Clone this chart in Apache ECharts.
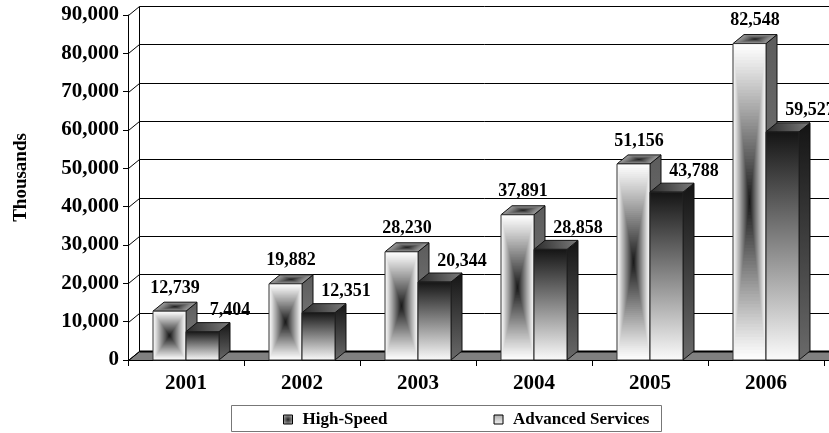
<!DOCTYPE html>
<html><head><meta charset="utf-8">
<script src="https://cdn.jsdelivr.net/npm/echarts/dist/echarts.min.js"></script>
<style>html,body{margin:0;padding:0;background:#fff}#c{width:829px;height:433px}</style>
</head><body><div id="c"></div>
<script>
// ---------- data ----------
const categories = ['2001', '2002', '2003', '2004', '2005', '2006'];
const highSpeed = [12739, 19882, 28230, 37891, 51156, 82548];
const advancedServices = [7404, 12351, 20344, 28858, 43788, 59527];
const yTicks = [0, 10000, 20000, 30000, 40000, 50000, 60000, 70000, 80000, 90000];
const seriesNames = ['High-Speed', 'Advanced Services'];
const yAxisTitle = 'Thousands';

// ---------- style constants ----------
const DX = 11, DY = -9;
const BAR_FRAC = 33 / 116;
const FONT = '"Liberation Serif", "Times New Roman", serif';
const G = echarts.graphic;

function fmt(v) { return v.toLocaleString('en-US'); }
function grey(l) { l = Math.round(Math.max(0, Math.min(255, l))); return 'rgb(' + l + ',' + l + ',' + l + ')'; }

function concentric(points, n, edge, center, pow) {
  let cx = 0, cy = 0;
  points.forEach(p => { cx += p[0]; cy += p[1]; });
  cx /= points.length; cy /= points.length;
  const els = [];
  for (let k = 0; k < n; k++) {
    const t = k / n;
    const pts = points.map(p => [cx + (p[0] - cx) * (1 - t), cy + (p[1] - cy) * (1 - t)]);
    els.push({ type: 'polygon', silent: true, shape: { points: pts },
      style: { fill: grey(edge + (center - edge) * Math.pow(t, pow || 1)) } });
  }
  return els;
}

function makeBar(kind) {
  return function (params, api) {
    const c = api.value(0), v = api.value(1);
    const pTop = api.coord([c, v]);
    const pBase = api.coord([c, 0]);
    const w = api.size([1, 0])[0] * BAR_FRAC;
    const x0 = kind === 0 ? pTop[0] - w : pTop[0];
    const x1 = x0 + w;
    const yt = pTop[1], yb = pBase[1];
    const front = [[x0, yt], [x1, yt], [x1, yb], [x0, yb]];
    const top = [[x0, yt], [x1, yt], [x1 + DX, yt + DY], [x0 + DX, yt + DY]];
    const side = [[x1, yt], [x1 + DX, yt + DY], [x1 + DX, yb + DY], [x1, yb]];
    let children = [];
    // side face
    children.push({ type: 'polygon', shape: { points: side },
      style: { fill: kind === 0
        ? new G.LinearGradient(0, 0, 0, 1, [{ offset: 0, color: '#5c5c5c' }, { offset: 1, color: '#858585' }])
        : new G.LinearGradient(0, 0, 0, 1, [{ offset: 0, color: '#141414' }, { offset: 1, color: '#6a6a6a' }]),
        stroke: '#111', lineWidth: 1 } });
    // top face
    if (kind === 0) {
      children = children.concat(concentric(top, 14, 150, 25, 1.3));
      children.push({ type: 'polygon', shape: { points: top }, style: { fill: 'none', stroke: '#111', lineWidth: 1 } });
    } else {
      children.push({ type: 'polygon', shape: { points: top },
        style: { fill: new G.LinearGradient(0, 1, 1, 0, [{ offset: 0, color: '#2a2a2a' }, { offset: 1, color: '#7c7c7c' }]),
          stroke: '#111', lineWidth: 1 } });
    }
    // front face
    if (kind === 0) {
      children = children.concat(concentric(front, 48, 253, 22, 1.1));
      children.push({ type: 'polygon', shape: { points: front }, style: { fill: 'none', stroke: '#333', lineWidth: 1 } });
    } else {
      children.push({ type: 'polygon', shape: { points: front },
        style: { fill: new G.LinearGradient(0, 0, 0, 1, [{ offset: 0, color: '#141414' }, { offset: 1, color: '#fbfbfb' }]),
          stroke: '#222', lineWidth: 1 } });
    }
    // value label
    children.push({ type: 'text', silent: true, style: {
      text: fmt(v),
      x: kind === 0 ? (x0 + x1) / 2 + DX / 2 : (x0 + x1) / 2 + 27.5,
      y: yt - (kind === 0 ? 23 : 21),
      align: 'center', verticalAlign: 'middle',
      font: 'bold 18px ' + FONT, fill: '#000' } });
    return { type: 'group', children: children };
  };
}

function renderFrame(params, api) {
  const v = api.value(1);
  const cs = params.coordSys;
  const y = Math.round(api.coord([0, v])[1]) + 0.5;
  const xl = Math.round(cs.x) + 0.5, xr = cs.x + cs.width + 20;
  const children = [];
  if (v === yTicks[0]) {
    children.push({ type: 'polygon', shape: { points: [[xl, y], [xl + DX, y + DY], [xr + DX, y + DY], [xr, y]] },
      style: { fill: '#808080', stroke: '#000', lineWidth: 1 } });
    const yTop = Math.round(api.coord([0, yTicks[yTicks.length - 1]])[1]) + 0.5;
    children.push({ type: 'line', shape: { x1: xl + DX, y1: y + DY, x2: xl + DX, y2: yTop + DY },
      style: { stroke: '#000', lineWidth: 1 } });
  }
  children.push({ type: 'line', shape: { x1: xl, y1: y, x2: xl + DX, y2: y + DY }, style: { stroke: '#000', lineWidth: 1 } });
  children.push({ type: 'line', shape: { x1: xl + DX, y1: y + DY, x2: xr + DX, y2: y + DY },
    style: { stroke: '#000', lineWidth: v === yTicks[0] ? 2 : 1 } });
  return { type: 'group', children: children };
}

const chart = echarts.init(document.getElementById('c'), null, { renderer: 'canvas' });
chart.setOption({
  animation: false,
  backgroundColor: '#fff',
  grid: { left: 128, right: 5, top: 15, bottom: 73, containLabel: false, outerBoundsMode: 'none' },
  xAxis: {
    type: 'category', data: categories, boundaryGap: true,
    axisLine: { show: true, lineStyle: { color: '#000', width: 1 } },
    axisTick: { show: true, length: 6, lineStyle: { color: '#000' } },
    axisLabel: { color: '#000', fontFamily: FONT, fontWeight: 'bold', fontSize: 21, margin: 13 },
    splitLine: { show: false }
  },
  yAxis: {
    type: 'value', min: yTicks[0], max: yTicks[yTicks.length - 1], interval: yTicks[1] - yTicks[0],
    axisLine: { show: true, lineStyle: { color: '#000', width: 1 } },
    axisTick: { show: true, length: 5, lineStyle: { color: '#000' } },
    axisLabel: { color: '#000', fontFamily: FONT, fontWeight: 'bold', fontSize: 21, margin: 9, formatter: fmt },
    splitLine: { show: false }
  },
  legend: {
    data: [
      { name: seriesNames[0], itemStyle: { color: new G.RadialGradient(0.5, 0.5, 0.6, [{ offset: 0, color: '#222' }, { offset: 1, color: '#bbb' }]), borderColor: '#000', borderWidth: 1 } },
      { name: seriesNames[1], itemStyle: { color: new G.LinearGradient(0, 0, 0, 1, [{ offset: 0, color: '#aaa' }, { offset: 1, color: '#f4f4f4' }]), borderColor: '#000', borderWidth: 1 } }
    ],
    icon: 'rect', left: 283, top: 411, padding: 0, itemWidth: 9, itemHeight: 9, itemGap: 106,
    textStyle: { color: '#000', fontFamily: FONT, fontWeight: 'bold', fontSize: 17, padding: [0, 0, 0, 5] }
  },
  graphic: [
    { type: 'rect', shape: { x: 231.5, y: 405.5, width: 430, height: 26 }, style: { fill: 'none', stroke: '#777', lineWidth: 1 }, z: 0 },
    { type: 'text', x: 21.5, y: 177.5, rotation: Math.PI / 2,
      style: { text: yAxisTitle, align: 'center', verticalAlign: 'middle', font: 'bold 19px ' + FONT, fill: '#000' } }
  ],
  series: [
    { name: 'frame', type: 'custom', renderItem: renderFrame, data: yTicks.map(v => [0, v]), z: 1, silent: true, clip: false },
    { name: seriesNames[0], type: 'custom', renderItem: makeBar(0), data: highSpeed.map((v, i) => [i, v]), z: 2, clip: false, itemStyle: { color: '#888' } },
    { name: seriesNames[1], type: 'custom', renderItem: makeBar(1), data: advancedServices.map((v, i) => [i, v]), z: 3, clip: false, itemStyle: { color: '#ccc' } }
  ]
});
</script>
</body></html>
